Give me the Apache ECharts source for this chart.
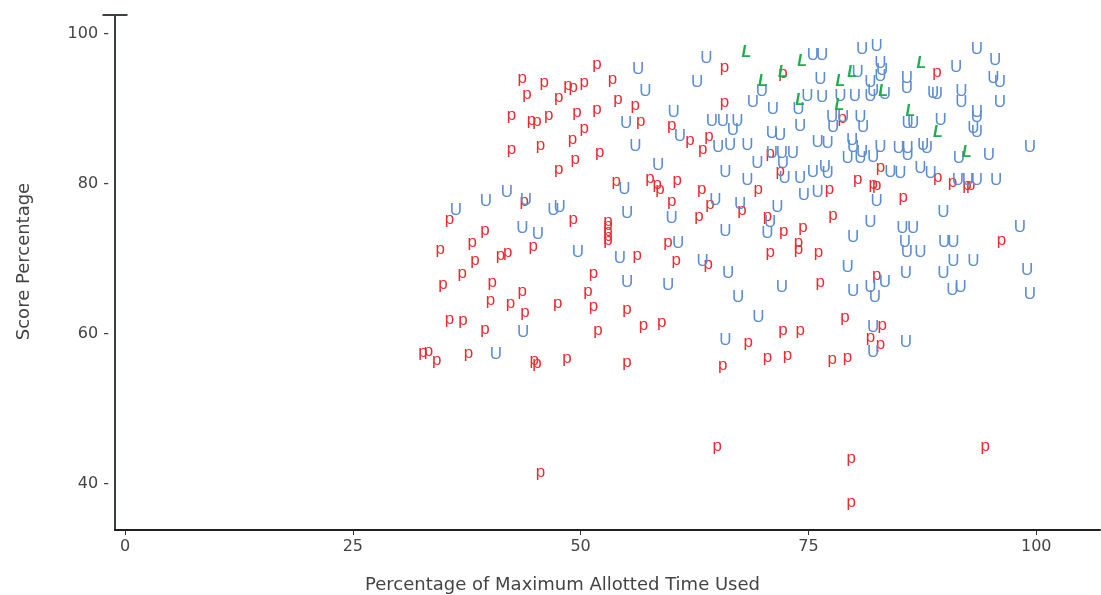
<!DOCTYPE html>
<html><head><meta charset="utf-8">
<script src="https://cdn.jsdelivr.net/npm/echarts@6/dist/echarts.min.js"></script>
<style>html,body{margin:0;padding:0;background:#fff}#c{width:1101px;height:595px}</style>
</head><body><div id="c"></div>
<script>
// tick labels
const xTicks = [0, 25, 50, 75, 100];
const yTicks = [40, 60, 80, 100];
const xTitle = 'Percentage of Maximum Allotted Time Used';
const yTitle = 'Score Percentage';

// "p" group (red): [time used %, score %]
const pPoints = [
 [51.8,95.6],[43.6,93.7],[46.0,93.1],[48.6,92.8],[49.2,92.5],[50.4,93.2],[53.5,93.6],[44.1,91.5],[47.6,91.2],[54.1,90.9],
 [56.0,90.1],[42.4,88.8],[44.6,88.1],[45.2,87.9],[46.5,88.7],[49.6,89.1],[51.8,89.5],[56.6,87.9],[42.4,84.2],[45.6,84.8],
 [49.1,85.6],[50.4,87.0],[49.4,82.9],[52.1,83.8],[47.6,81.6],[53.9,80.0],[43.8,77.2],[57.6,80.4],[65.8,95.1],[72.2,94.3],
 [65.8,90.5],[60.0,87.4],[62.0,85.4],[64.1,86.0],[63.4,84.2],[78.7,88.3],[70.8,83.7],[71.9,81.3],[82.9,81.8],[58.4,79.6],
 [58.7,78.8],[60.6,80.1],[63.3,78.9],[69.5,78.8],[77.3,78.8],[80.4,80.2],[82.1,79.6],[82.5,79.4],[89.1,94.5],[89.2,80.5],
 [90.8,79.8],[92.4,79.4],[92.8,79.4],[85.4,77.8],[96.2,72.1],[82.5,67.4],[83.1,60.7],[82.9,58.2],[60.0,77.2],[64.2,76.8],
 [63.0,75.2],[67.7,76.1],[70.5,75.2],[72.3,73.2],[74.4,73.8],[73.9,71.8],[73.9,70.9],[70.8,70.4],[76.1,70.4],[77.7,75.4],
 [59.6,71.8],[60.5,69.4],[64.0,68.9],[76.3,66.4],[79.0,61.8],[58.9,61.1],[56.9,60.7],[72.2,60.1],[74.1,60.1],[81.8,59.1],
 [68.4,58.5],[70.5,56.5],[72.7,56.7],[77.6,56.2],[79.3,56.5],[65.6,55.4],[35.6,74.8],[49.2,74.9],[53.0,74.6],[53.0,74.0],
 [53.0,73.3],[53.0,72.6],[53.0,72.0],[39.5,73.4],[38.1,71.8],[34.6,70.8],[44.8,71.2],[56.2,70.0],[41.2,70.1],[42.0,70.5],
 [38.4,69.4],[37.0,67.6],[34.9,66.2],[40.3,66.4],[51.4,67.6],[43.6,65.2],[50.8,65.2],[40.1,64.0],[42.3,63.7],[43.9,62.5],
 [47.5,63.6],[51.4,63.3],[55.1,62.8],[35.6,61.5],[37.1,61.4],[39.5,60.2],[51.9,60.1],[32.7,57.1],[33.3,57.3],[34.2,56.1],
 [37.7,57.0],[44.9,56.1],[45.2,55.7],[48.5,56.3],[55.1,55.8],[45.6,41.1],[65.0,44.6],[79.7,43.0],[79.7,37.1],[94.4,44.5]
];

// "U" group (blue)
const uPoints = [
 [56.3,95.3],[57.1,92.3],[55.0,88.1],[56.0,85.0],[41.9,78.8],[39.6,77.6],[44.0,77.8],[47.0,76.5],[47.7,76.9],[36.3,76.4],
 [54.8,79.2],[55.1,76.1],[63.8,96.8],[75.5,97.2],[76.5,97.2],[80.9,97.9],[82.5,98.4],[62.8,93.5],[76.3,93.9],[80.4,94.9],
 [82.9,96.1],[83.1,95.2],[82.9,94.3],[81.8,93.5],[82.1,92.3],[69.9,92.4],[68.9,90.9],[71.1,90.0],[73.9,90.0],[74.9,91.7],
 [76.5,91.6],[78.5,91.7],[80.1,91.7],[81.8,91.7],[60.2,89.5],[64.4,88.4],[65.6,88.4],[67.2,88.4],[66.7,87.2],[60.9,86.4],
 [65.1,84.9],[66.4,85.2],[68.3,85.2],[71.0,86.8],[71.9,86.5],[74.1,87.7],[77.6,88.9],[78.8,88.9],[80.7,88.9],[77.7,87.6],
 [81.0,87.6],[76.0,85.6],[77.1,85.4],[79.8,85.8],[79.9,84.9],[80.9,84.2],[82.9,84.9],[71.0,84.1],[72.1,84.1],[73.3,84.1],
 [69.4,82.8],[72.2,82.8],[58.5,82.5],[72.4,80.8],[74.1,80.8],[65.9,81.6],[75.5,81.6],[76.8,82.2],[77.1,81.4],[79.3,83.4],
 [80.7,83.4],[82.1,83.6],[68.3,80.5],[74.5,78.5],[76.0,78.8],[93.5,98.0],[95.5,96.5],[91.2,95.5],[85.8,94.1],[85.8,92.8],
 [95.3,94.1],[96.0,93.5],[83.4,91.9],[88.7,92.1],[89.1,91.9],[91.8,92.3],[91.8,90.9],[96.0,90.9],[85.9,88.1],[86.5,88.1],
 [89.5,88.5],[93.5,89.5],[93.5,88.9],[93.1,87.4],[93.5,86.9],[84.9,84.8],[85.9,84.8],[85.9,83.8],[87.6,85.2],[88.0,84.8],
 [91.5,83.4],[94.8,83.8],[99.3,84.9],[84.0,81.6],[85.1,81.4],[87.3,82.1],[88.4,81.4],[91.4,80.5],[92.5,80.5],[93.5,80.5],
 [95.6,80.5],[82.5,77.6],[89.8,76.2],[98.2,74.2],[85.3,74.1],[86.5,74.1],[81.8,74.8],[85.6,72.2],[89.9,72.2],[90.9,72.2],
 [85.8,70.9],[87.3,70.9],[90.9,69.6],[93.1,69.6],[99.0,68.5],[85.7,68.1],[89.8,68.1],[83.4,66.8],[90.8,65.8],[91.7,66.2],
 [99.3,65.2],[82.3,64.8],[82.1,60.9],[82.1,57.5],[85.7,58.9],[60.0,75.4],[64.8,77.8],[67.5,77.2],[71.6,76.8],[70.8,74.8],
 [70.5,73.4],[65.9,73.6],[79.9,72.8],[60.7,72.1],[63.4,69.6],[66.2,68.1],[59.6,66.4],[72.1,66.2],[79.3,68.9],[67.3,64.9],
 [79.9,65.6],[81.8,66.2],[69.5,62.2],[65.9,59.1],[43.6,74.1],[45.3,73.2],[49.7,70.8],[54.3,70.1],[55.1,66.9],[43.7,60.2],
 [40.7,57.3]
];

// "L" group (green)
const lPoints = [
 [68.2,97.5],[74.3,96.3],[72.2,94.8],[70.0,93.7],[78.5,93.6],[79.8,94.9],[83.2,92.3],[74.1,91.1],[78.4,90.5],[87.4,96.1],
 [86.2,89.6],[89.2,86.9],[92.4,84.2]
];

function letterSeries(name, data, ch, color, font, dy) {
  return {
    type: 'custom', name: name, data: data, silent: true, animation: false,
    encode: { x: 0, y: 1 },
    renderItem: function (params, api) {
      const pt = api.coord([api.value(0), api.value(1)]);
      return {
        type: 'text', x: pt[0], y: pt[1] + dy,
        style: { text: ch, fill: color, font: font, align: 'center', verticalAlign: 'middle' }
      };
    }
  };
}

const chart = echarts.init(document.getElementById('c'), null, { renderer: 'canvas' });
chart.setOption({
  animation: false,
  backgroundColor: '#ffffff',
  grid: { left: 115, right: 1, top: 15, bottom: 65, containLabel: false, outerBoundsMode: 'none' },
  xAxis: {
    type: 'value', min: -1.1, max: 107,
    splitLine: { show: false },
    axisLine: { show: true, onZero: false, lineStyle: { color: '#1e1e1e', width: 2 } },
    axisTick: { show: true, customValues: xTicks, length: 5, lineStyle: { color: '#333', width: 1 } },
    axisLabel: { customValues: xTicks, color: '#444', fontSize: 16, fontFamily: 'DejaVu Sans', margin: 9 },
    name: xTitle, nameLocation: 'middle', nameGap: 46,
    nameTextStyle: { color: '#444', fontSize: 18, fontFamily: 'DejaVu Sans', padding: [0, 90, 0, 0] }
  },
  yAxis: {
    type: 'value', min: 33.78, max: 102.54,
    splitLine: { show: false },
    axisLine: { show: true, onZero: false, symbol: ['none', 'rect'], symbolSize: [25, 2], lineStyle: { color: '#3c4046', width: 2 } },
    axisTick: { show: false },
    axisLabel: { customValues: yTicks, formatter: '{value} -', color: '#444', fontSize: 16, fontFamily: 'DejaVu Sans', margin: 6 },
    name: yTitle, nameLocation: 'middle', nameGap: 82, nameRotate: 90,
    nameTextStyle: { color: '#444', fontSize: 18, fontFamily: 'DejaVu Sans', padding: [0, 0, 0, 22] }
  },
  series: [
    letterSeries('p', pPoints, 'p', '#ee2a30', '17px "Liberation Sans"', -3),
    letterSeries('U', uPoints, 'U', '#5b8dd4', '17px "Liberation Sans"', 0),
    letterSeries('L', lPoints, 'L', '#1fae4a', 'italic bold 16px "Liberation Sans"', 0)
  ]
});
</script>
</body></html>
